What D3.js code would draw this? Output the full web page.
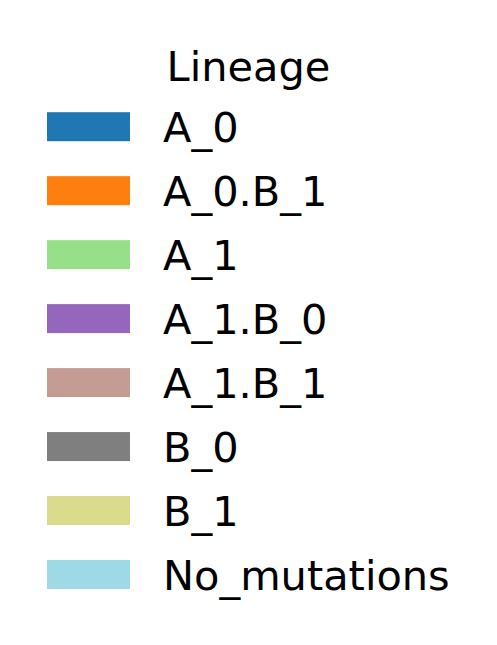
<!DOCTYPE html>
<html><head><meta charset="utf-8">
<script src="https://cdn.jsdelivr.net/npm/d3@7"></script>
<style>html,body{margin:0;padding:0;background:#fff;}</style>
</head><body>
<script>
const title = "Lineage";
const categories = ["A_0","A_0.B_1","A_1","A_1.B_0","A_1.B_1","B_0","B_1","No_mutations"];
const colors = ["#1f77b4","#ff7f0e","#98df8a","#9467bd","#c49c94","#7f7f7f","#dbdb8d","#9edae5"];

const W = 497, H = 645;
const fs = 41.5;
const svg = d3.select("body").append("svg").attr("width", W).attr("height", H);

const y = d3.scalePoint().domain(categories).range([141.7, 589.5]);
const color = d3.scaleOrdinal().domain(categories).range(colors);

svg.append("text").attr("x", 248.5).attr("y", 80.5)
  .attr("text-anchor", "middle")
  .style("font-family", "DejaVu Sans").style("font-size", fs + "px")
  .text(title);

const rows = svg.selectAll("g.row").data(categories).join("g").attr("class","row");
rows.append("rect")
  .attr("x", 47).attr("width", 83)
  .attr("y", d => y(d) - 29.5).attr("height", 29)
  .attr("fill", d => color(d));
rows.append("text")
  .attr("x", 163).attr("y", d => y(d))
  .style("font-family", "DejaVu Sans").style("font-size", fs + "px")
  .text(d => d);
</script>
</body></html>
